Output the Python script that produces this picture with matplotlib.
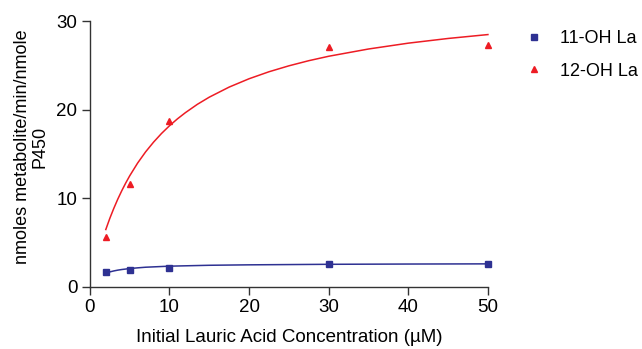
import matplotlib.pyplot as plt
from matplotlib.lines import Line2D

plt.rcParams["font.family"] = ["Liberation Sans", "DejaVu Sans"]

# measured points
conc = [2, 5, 10, 30, 50]
oh11 = [1.66, 1.89, 2.18, 2.63, 2.56]
oh12 = [5.6, 11.6, 18.7, 27.1, 27.3]

# fitted curves
fit_x12 = [2, 2.5, 3, 3.5, 4, 4.5, 5, 6, 7, 8, 9, 10, 11, 12, 13.5, 15,
           17.5, 20, 22.5, 25, 27.5, 30, 35, 40, 45, 50]
fit_y12 = [6.48, 7.73, 8.86, 9.90, 10.85, 11.73, 12.54, 13.99, 15.25,
           16.35, 17.33, 18.20, 18.98, 19.68, 20.62, 21.43, 22.57, 23.51,
           24.30, 24.97, 25.55, 26.05, 26.87, 27.53, 28.06, 28.50]
fit_x11 = [2, 2.5, 3, 3.5, 4, 5, 6, 7, 10, 15, 20, 30, 40, 50]
fit_y11 = [1.55, 1.69, 1.80, 1.89, 1.96, 2.07, 2.15, 2.22, 2.34, 2.44,
           2.49, 2.55, 2.58, 2.60]

xticks = [0, 10, 20, 30, 40, 50]
yticks = [0, 10, 20, 30]

blue = "#2e3192"
red = "#ed1c24"

fig = plt.figure(figsize=(6.42, 3.49), dpi=100)
ax = fig.add_axes([0.140, 0.178, 0.620, 0.761])

ax.plot(fit_x12, fit_y12, color=red, lw=1.1, clip_on=False)
ax.plot(fit_x11, fit_y11, color=blue, lw=1.1, clip_on=False)
ax.plot(conc, oh11, "s", color=blue, ms=5, clip_on=False, zorder=3)
ax.plot(conc, oh12, "^", color=red, ms=5, clip_on=False, zorder=3)

ax.set_xlim(0, 50)
ax.set_ylim(0, 30)
ax.set_xticks(xticks)
ax.set_yticks(yticks)
for s in ["top", "right"]:
    ax.spines[s].set_visible(False)
for s in ["left", "bottom"]:
    ax.spines[s].set_color("#333333")
    ax.spines[s].set_linewidth(1.0)
ax.tick_params(direction="out", length=6, width=1.0, color="#333333",
               labelsize=13.5, pad=3)

ax.set_xlabel("Initial Lauric Acid Concentration (\u00b5M)", fontsize=13.5,
              labelpad=9)
ax.set_ylabel("nmoles metabolite/min/nmole\nP450", fontsize=13,
              linespacing=1.0)
ax.yaxis.set_label_coords(-0.105, 0.528)

handles = [
    Line2D([], [], ls="", marker="s", color=blue, ms=4.5),
    Line2D([], [], ls="", marker="^", color=red, ms=4.5),
]
fig.legend(handles, ["11-OH La", "12-OH La"], loc="upper left",
           bbox_to_anchor=(0.792, 0.96), frameon=False, fontsize=13,
           handlelength=1.0, handletextpad=0.95, labelspacing=0.85)

fig.savefig("out.png", dpi=100)
